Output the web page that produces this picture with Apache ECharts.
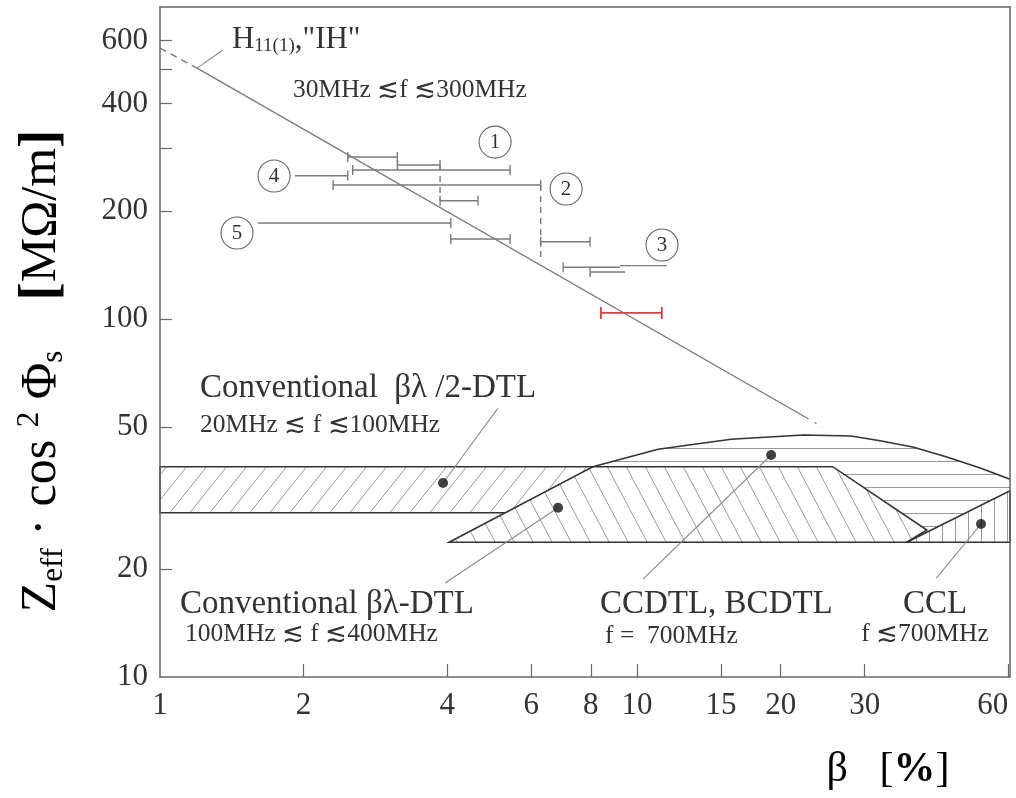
<!DOCTYPE html>
<html><head><meta charset="utf-8">
<script src="https://cdn.jsdelivr.net/npm/echarts@6/dist/echarts.min.js"></script>
<style>html,body{margin:0;padding:0;background:#fff}#c{width:1016px;height:798px}</style>
</head><body><div id="c"></div>
<script>
// ---------- axes ----------
const xMin = 1, xMax = 60.5, yMin = 10, yMax = 744;
const xTicks = [2, 4, 6, 8, 10, 15, 20, 30, 60];
const xTickLabels = [1, 2, 4, 6, 8, 10, 15, 20, 30, 60];
const yTicks = [20, 50, 100, 200, 300, 400, 500, 600];
const yTickLabels = [10, 20, 50, 100, 200, 400, 600];

// ---------- H11(1) "IH" line ----------
const ihDashX = [1, 1.196], ihDashY = [571, 502];
const ihSolidX = [1.196, 22.7], ihSolidY = [502, 52.9];
const ihDotX = [22.7, 24.5], ihDotY = [52.9, 49.9];

// ---------- horizontal range bars (gray) ----------
const barY  = [283.5, 269.3, 260.8, 251.4, 236.7, 214, 185.4, 167.3, 164.4, 139.5, 141, 135.3];
const barLo = [2.475, 3.145, 2.535, 1.919, 2.306, 3.864, 1.605, 4.07, 6.28, 7.0, 9.21, 7.97];
const barHi = [3.145, 3.864, 5.418, 2.475, 6.28, 4.64, 4.07, 5.418, 7.97, 9.21, 11.54, 9.44];
const barCapLo = [1, 1, 1, 0, 1, 1, 0, 1, 1, 1, 0, 1];
const barCapHi = [1, 1, 1, 1, 1, 1, 1, 1, 1, 0, 0, 0];
// red bar
const redY = [104], redLo = [8.40], redHi = [11.27];
// dashed vertical connectors
const dashX = [3.864, 6.28], dashTop = [269.3, 236.7], dashBot = [214, 148.1];
// numbered circles
const circX = [5.04, 7.10, 11.28, 1.734, 1.450];
const circY = [312, 230.7, 160.9, 250.9, 173.9];
const circText = ['1', '2', '3', '4', '5'];

// ---------- regions ----------
const rectX = [1, 8.075, 8.075, 1];
const rectY = [38.68, 38.68, 28.76, 28.76];
const dtlX = [4.036, 8.075, 25.72, 40.5, 36.76];
const dtlY = [23.8, 38.68, 38.68, 25.74, 23.8];
const cclX = [36.76, 60.5, 60.5];
const cclY = [23.8, 33.14, 23.8];
const ccdtlX = [8.075, 11.07, 15.74, 22.36, 28.1, 32.3, 37.84, 44.6, 52.4, 60.5];
const ccdtlY = [38.68, 43.25, 46.13, 47.42, 47.1, 45.7, 43.9, 41.17, 38.36, 35.67];
const ccdtlBaseY = 23.8;

// dots and leaders
const dotX = [3.92, 6.83, 19.1, 52.6];
const dotY = [34.83, 29.71, 41.7, 26.75];
const leadX0 = [3.92, 6.83, 19.1, 52.6, 1.196];
const leadY0 = [34.83, 29.71, 41.7, 26.75, 502];
const leadX1 = [5.11, 3.96, 10.29, 42.4, 1.355];
const leadY1 = [56.4, 18.31, 18.78, 18.9, 564];

// annotation anchors (left edge, vertical middle)
const labX = [1.415, 1.90, 1.213, 1.213, 1.101, 1.128, 8.36, 8.57, 36.1, 29.5];
const labY = [601, 436, 64.2, 50.6, 16.0, 13.19, 16.0, 13.02, 16.0, 13.19];
const labText = [
  '{big|H}{sub|11(1)}{big|,"IH"}',
  '{sm|30MHz \u2272f \u2272300MHz}',
  '{big2|Conventional  \u03b2\u03bb /2-DTL}',
  '{sm|20MHz \u2272 f \u2272100MHz}',
  '{big2|Conventional \u03b2\u03bb-DTL}',
  '{sm|100MHz \u2272 f \u2272400MHz}',
  '{big2|CCDTL, BCDTL}',
  '{sm|f =  700MHz}',
  '{big2|CCL}',
  '{sm|f \u2272700MHz}'
];

const FONT = "'Liberation Serif','Times New Roman',serif";
const GRAY = '#7a7a7a';
const AX = '#666';

function hatch(w, h, draw) {
  const c = document.createElement('canvas');
  c.width = w; c.height = h;
  const g = c.getContext('2d');
  g.fillStyle = '#fff'; g.fillRect(0, 0, w, h);
  g.strokeStyle = '#9a9a9a'; g.lineWidth = 1;
  g.beginPath(); draw(g, w, h); g.stroke();
  return { image: c, repeat: 'repeat' };
}
const patSlash = hatch(20, 25, (g, w, h) => { for (const c of [-w, 0, w]) { g.moveTo(c, h); g.lineTo(c + w, 0); } });
const patBack = hatch(19, 36, (g, w, h) => { for (const c of [-w, 0, w]) { g.moveTo(c, 0); g.lineTo(c + w, h); } });
const patHoriz = hatch(8, 13, (g, w, h) => { g.moveTo(0, 6.5); g.lineTo(w, 6.5); });
const patVert = hatch(13, 8, (g, w, h) => { g.moveTo(6.5, 0); g.lineTo(6.5, h); });

const regions = [
  { xs: ccdtlX.concat([ccdtlX[ccdtlX.length - 1], ccdtlX[0]]), ys: ccdtlY.concat([ccdtlBaseY, ccdtlBaseY]), fill: patHoriz, stroke: null },
  { xs: rectX, ys: rectY, fill: patSlash, stroke: '#333' },
  { xs: dtlX, ys: dtlY, fill: patBack, stroke: '#333' },
  { xs: cclX, ys: cclY, fill: patVert, stroke: '#333' }
];

const chart = echarts.init(document.getElementById('c'), null, { renderer: 'canvas' });

function lineSeries(xs, ys, style) {
  return { type: 'line', data: xs.map((x, i) => [x, ys[i]]), showSymbol: false, symbol: 'none',
    lineStyle: style, silent: true, animation: false, z: 4 };
}

const option = {
  animation: false,
  backgroundColor: '#fff',
  grid: { left: 160, right: 6, top: 7, bottom: 121, show: false },
  xAxis: [{
    type: 'log', logBase: 10, min: xMin, max: xMax, position: 'bottom',
    axisLine: { show: true, lineStyle: { color: AX, width: 1.5 } },
    axisTick: { show: true, inside: true, length: 13, customValues: xTicks, lineStyle: { color: AX, width: 1.2 } },
    axisLabel: { show: true, customValues: xTickLabels, margin: 13, color: '#333', fontFamily: FONT, fontSize: 31,
      alignMaxLabel: 'right', formatter: v => String(Math.round(v)) },
    splitLine: { show: false }, minorTick: { show: false }, z: 10
  }, {
    type: 'log', logBase: 10, min: xMin, max: xMax, position: 'top',
    axisLine: { show: true, lineStyle: { color: AX, width: 1.5 } },
    axisTick: { show: false }, axisLabel: { show: false }, splitLine: { show: false }, z: 10
  }],
  yAxis: [{
    type: 'log', logBase: 10, min: yMin, max: yMax, position: 'left',
    axisLine: { show: true, lineStyle: { color: AX, width: 1.5 } },
    axisTick: { show: true, inside: true, length: 12, customValues: yTicks, lineStyle: { color: AX, width: 1.2 } },
    axisLabel: { show: true, customValues: yTickLabels, margin: 12, color: '#333', fontFamily: FONT, fontSize: 31,
      formatter: v => String(Math.round(v)) },
    splitLine: { show: false }, minorTick: { show: false }, z: 10
  }, {
    type: 'log', logBase: 10, min: yMin, max: yMax, position: 'right',
    axisLine: { show: true, lineStyle: { color: AX, width: 1.5 } },
    axisTick: { show: false }, axisLabel: { show: false }, splitLine: { show: false }, z: 10
  }],
  series: [
    {
      type: 'custom', name: 'regions', z: 2, silent: true,
      data: regions.map((r, i) => [r.xs[0], r.ys[0], i]),
      renderItem: (params, api) => {
        const r = regions[params.dataIndex];
        const pts = r.xs.map((x, j) => api.coord([x, r.ys[j]]));
        return { type: 'polygon', shape: { points: pts },
          style: { fill: r.fill, stroke: r.stroke || null, lineWidth: 1.6, lineJoin: 'miter' } };
      }
    },
    lineSeries(ccdtlX, ccdtlY, { color: '#333', width: 1.6 }),
    lineSeries(ihDashX, ihDashY, { color: GRAY, width: 1.4, type: [7, 5] }),
    lineSeries(ihSolidX, ihSolidY, { color: GRAY, width: 1.4 }),
    lineSeries(ihDotX, ihDotY, { color: GRAY, width: 1.4, type: [2, 7] }),
    {
      type: 'custom', name: 'bars', z: 5, silent: true,
      data: barY.map((y, i) => [barLo[i], y, barHi[i]]),
      renderItem: (params, api) => {
        const i = params.dataIndex;
        const a = api.coord([barLo[i], barY[i]]), b = api.coord([barHi[i], barY[i]]);
        const st = { stroke: GRAY, lineWidth: 1.4 };
        const ch = [{ type: 'line', shape: { x1: a[0], y1: a[1], x2: b[0], y2: b[1] }, style: st }];
        if (barCapLo[i]) ch.push({ type: 'line', shape: { x1: a[0], y1: a[1] - 5, x2: a[0], y2: a[1] + 5 }, style: st });
        if (barCapHi[i]) ch.push({ type: 'line', shape: { x1: b[0], y1: b[1] - 5, x2: b[0], y2: b[1] + 5 }, style: st });
        return { type: 'group', children: ch };
      }
    },
    {
      type: 'custom', name: 'redbar', z: 6, silent: true,
      data: redY.map((y, i) => [redLo[i], y, redHi[i]]),
      renderItem: (params, api) => {
        const i = params.dataIndex;
        const a = api.coord([redLo[i], redY[i]]), b = api.coord([redHi[i], redY[i]]);
        const st = { stroke: '#e8393a', lineWidth: 1.8 };
        return { type: 'group', children: [
          { type: 'line', shape: { x1: a[0], y1: a[1], x2: b[0], y2: b[1] }, style: st },
          { type: 'line', shape: { x1: a[0], y1: a[1] - 6, x2: a[0], y2: a[1] + 6 }, style: st },
          { type: 'line', shape: { x1: b[0], y1: b[1] - 6, x2: b[0], y2: b[1] + 6 }, style: st }
        ] };
      }
    },
    {
      type: 'custom', name: 'dashes', z: 5, silent: true,
      data: dashX.map((x, i) => [x, dashTop[i], dashBot[i]]),
      renderItem: (params, api) => {
        const i = params.dataIndex;
        const a = api.coord([dashX[i], dashTop[i]]), b = api.coord([dashX[i], dashBot[i]]);
        return { type: 'line', shape: { x1: a[0], y1: a[1], x2: b[0], y2: b[1] },
          style: { stroke: GRAY, lineWidth: 1.4, lineDash: [6, 5] } };
      }
    },
    {
      type: 'custom', name: 'leaders', z: 6, silent: true,
      data: leadX0.map((x, i) => [x, leadY0[i], leadX1[i], leadY1[i]]),
      renderItem: (params, api) => {
        const i = params.dataIndex;
        const a = api.coord([leadX0[i], leadY0[i]]), b = api.coord([leadX1[i], leadY1[i]]);
        return { type: 'line', shape: { x1: a[0], y1: a[1], x2: b[0], y2: b[1] },
          style: { stroke: '#8a8a8a', lineWidth: 1.1 } };
      }
    },
    {
      type: 'scatter', name: 'circles', z: 7, silent: true,
      data: circX.map((x, i) => [x, circY[i], circText[i]]),
      symbol: 'circle', symbolSize: 32,
      itemStyle: { color: '#fff', borderColor: '#666', borderWidth: 1.1, opacity: 1 },
      label: { show: true, position: 'inside', formatter: p => p.value[2], color: '#333', fontFamily: FONT, fontSize: 21 }
    },
    {
      type: 'scatter', name: 'dots', z: 8, silent: true,
      data: dotX.map((x, i) => [x, dotY[i]]),
      symbol: 'circle', symbolSize: 10, itemStyle: { color: '#111' }
    },
    {
      type: 'custom', name: 'labels', z: 9, silent: true,
      data: labX.map((x, i) => [x, labY[i]]),
      renderItem: (params, api) => {
        const i = params.dataIndex;
        const p = api.coord([labX[i], labY[i]]);
        return { type: 'text', x: p[0], y: p[1], style: {
          text: labText[i], align: 'left', verticalAlign: 'middle', fill: '#333',
          rich: {
            big: { fontFamily: FONT, fontSize: 31, color: '#333' },
            big2: { fontFamily: FONT, fontSize: 33, color: '#333' },
            sub: { fontFamily: FONT, fontSize: 19, color: '#333', verticalAlign: 'bottom' },
            sm: { fontFamily: FONT, fontSize: 25.5, color: '#333' }
          } } };
      }
    }
  ],
  graphic: [
    { type: 'text', x: 42, y: 371, rotation: Math.PI / 2, silent: true,
      style: { text: '{b|Z}{s|eff}{b| \u00b7 cos }{p|2}{b| \u03a6}{s|s}{b|    }{k|[}{b|M\u03a9/m}{k|]}',
        align: 'center', verticalAlign: 'middle',
        rich: {
          b: { fontFamily: FONT, fontSize: 50, color: '#333' },
          s: { fontFamily: FONT, fontSize: 31, color: '#333', verticalAlign: 'bottom' },
          p: { fontFamily: FONT, fontSize: 31, color: '#333', verticalAlign: 'top' },
          k: { fontFamily: FONT, fontSize: 55, fontWeight: 'bold', color: '#333' }
        } } },
    { type: 'text', x: 888, y: 770, silent: true,
      style: { text: '{b|\u03b2}{b|   [}{k|%}{b|]}', align: 'center', verticalAlign: 'middle',
        rich: {
          b: { fontFamily: FONT, fontSize: 42, color: '#333' },
          k: { fontFamily: FONT, fontSize: 42, fontWeight: 'bold', color: '#333' }
        } } }
  ]
};
chart.setOption(option);
</script>
</body></html>
